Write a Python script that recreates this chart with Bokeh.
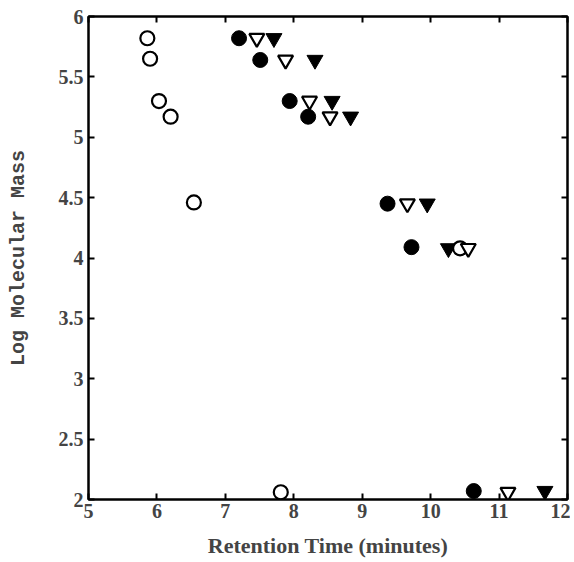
from bokeh.plotting import figure
from bokeh.models import LinearAxis, Range1d, FixedTicker
from bokeh.embed import file_html
from bokeh.resources import INLINE

# Data
open_circle_x = [5.86, 5.90, 6.03, 6.20, 6.54, 10.43, 7.81]
open_circle_y = [5.82, 5.65, 5.30, 5.17, 4.46, 4.08, 2.06]
filled_circle_x = [7.20, 7.51, 7.94, 8.21, 9.37, 9.72, 10.63]
filled_circle_y = [5.82, 5.64, 5.30, 5.17, 4.45, 4.09, 2.07]
open_tri_x = [7.46, 7.88, 8.23, 8.53, 9.66, 10.55, 11.13]
open_tri_y = [5.82, 5.64, 5.30, 5.17, 4.45, 4.08, 2.06]
filled_tri_x = [7.71, 8.31, 8.56, 8.83, 9.95, 10.26, 11.67]
filled_tri_y = [5.82, 5.64, 5.30, 5.17, 4.45, 4.08, 2.07]

x_ticks = [5, 6, 7, 8, 9, 10, 11, 12]
y_ticks = [2, 2.5, 3, 3.5, 4, 4.5, 5, 5.5, 6]

p = figure(width=570, height=560, output_backend="svg", toolbar_location=None,
           x_range=Range1d(5, 12), y_range=Range1d(2, 6),
           min_border_left=88, min_border_right=3, min_border_top=16, min_border_bottom=60,
           x_axis_label="Retention Time (minutes)", y_axis_label="Log Molecular Mass")
p.grid.visible = False
p.outline_line_color = "black"
p.outline_line_width = 2
p.background_fill_color = "white"
p.border_fill_color = "white"

serif = "Liberation Serif"
mono = "Liberation Mono"

xa = p.xaxis[0]
xa.ticker = FixedTicker(ticks=x_ticks)
xa.major_tick_in = 6
xa.major_tick_out = 0
xa.minor_tick_line_color = None
xa.axis_line_width = 2
xa.major_tick_line_width = 2
xa.major_label_text_font = serif
xa.major_label_text_font_size = "20px"
xa.major_label_text_font_style = "bold"
xa.major_label_standoff = 4
xa.axis_label_text_font = serif
xa.axis_label_text_font_size = "22px"
xa.axis_label_text_font_style = "bold"
xa.axis_label_standoff = 12

ya = p.yaxis[0]
ya.ticker = FixedTicker(ticks=y_ticks)
ya.major_tick_in = 6
ya.major_tick_out = 0
ya.minor_tick_line_color = None
ya.axis_line_width = 2
ya.major_tick_line_width = 2
ya.major_label_text_font = serif
ya.major_label_text_font_size = "20px"
ya.major_label_text_font_style = "bold"
ya.major_label_text_align = "left"
ya.major_label_standoff = 5
ya.axis_label_text_font = mono
ya.axis_label_text_font_size = "20px"
ya.axis_label_text_font_style = "bold"
ya.axis_label_standoff = 26

top = LinearAxis(ticker=FixedTicker(ticks=x_ticks), major_tick_in=6, major_tick_out=0,
                 minor_tick_line_color=None, major_label_text_font_size="1px",
                 major_label_text_color=None,
                 major_label_standoff=0, axis_line_width=2, major_tick_line_width=2)
right = LinearAxis(ticker=FixedTicker(ticks=y_ticks), major_tick_in=6, major_tick_out=0,
                   minor_tick_line_color=None, major_label_text_font_size="1px",
                   major_label_text_color=None,
                   major_label_standoff=0, axis_line_width=2, major_tick_line_width=2)
p.add_layout(top, "above")
p.add_layout(right, "right")

p.scatter(filled_circle_x, filled_circle_y, marker="circle", size=15,
          fill_color="black", line_color="black")
p.scatter(filled_tri_x, filled_tri_y, marker="inverted_triangle", size=16,
          fill_color="black", line_color="black")
p.scatter(open_circle_x, open_circle_y, marker="circle", size=14,
          fill_color="white", line_color="black", line_width=2.2)
p.scatter(open_tri_x, open_tri_y, marker="inverted_triangle", size=15,
          fill_color="white", line_color="black", line_width=2.2)

open("out.html", "w").write(file_html(p, INLINE))
